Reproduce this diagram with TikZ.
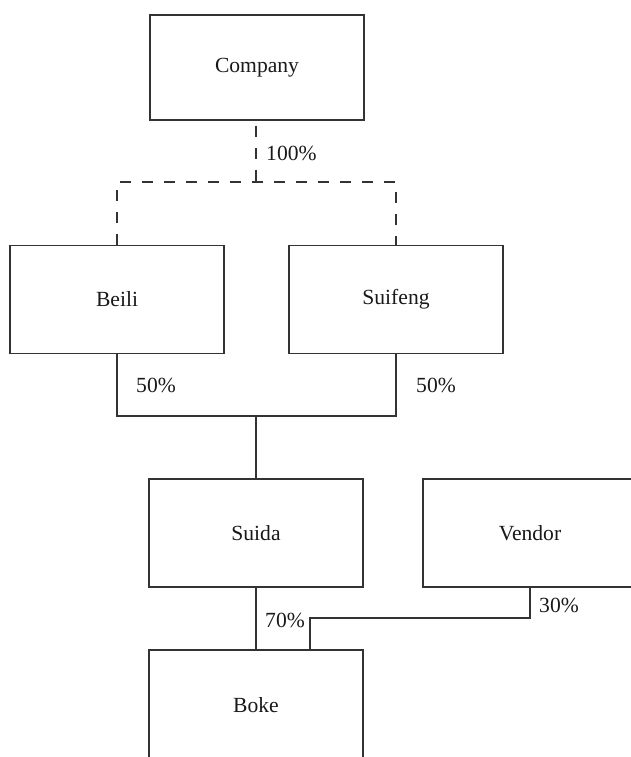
\documentclass[tikz,border=0pt]{standalone}
\usepackage{fontspec}
\setmainfont{Liberation Serif}
\begin{document}
\begin{tikzpicture}[x=1pt,y=-1pt,
  box/.style={draw=black!80, line width=1.1pt, minimum width=214pt, minimum height=108pt, inner sep=0pt, font=\fontsize{21.6}{25}\selectfont, text=black!90},
  conn/.style={draw=black!80, line width=1.1pt},
  dconn/.style={conn, dash pattern=on 11pt off 11pt},
  pct/.style={anchor=west, inner sep=0pt, font=\fontsize{21.6}{25}\selectfont, text=black!90}]
\useasboundingbox (0,0) rectangle (631,757);
\clip (0,0) rectangle (631,757);
\node[box, minimum height=105pt] (company) at (257,67.5) {Company};
\node[box] (beili) at (117,299.5) {Beili};
\node[box] (suifeng) at (396,299.5) {Suifeng};
\node[box] (suida) at (256,533) {Suida};
\node[box] (vendor) at (530,533) {Vendor};
\node[box, minimum height=110pt] (boke) at (256,705) {Boke};
\coordinate (j1) at (256,182);
\coordinate (j2) at (256,416);
\coordinate (j3) at (310,618);
\draw[dconn, dash phase=17pt] (company.south -| j1) -- (j1);
\draw[dconn] (beili.north) |- (j1) -| (suifeng.north);
\draw[conn] (beili.south) |- (j2) -| (suifeng.south);
\draw[conn] (j2) -- (suida.north -| j2);
\draw[conn] (suida.south) -- (boke.north);
\draw[conn] (vendor.south) |- (j3) -- (j3 |- boke.north);
\node[pct] (p100) at (266,153) {100\%};
\node[pct] (p50a) at (136,385) {50\%};
\node[pct] (p50b) at (416,385) {50\%};
\node[pct] (p70) at (265,620) {70\%};
\node[pct] (p30) at (539,605) {30\%};
\end{tikzpicture}
\end{document}
